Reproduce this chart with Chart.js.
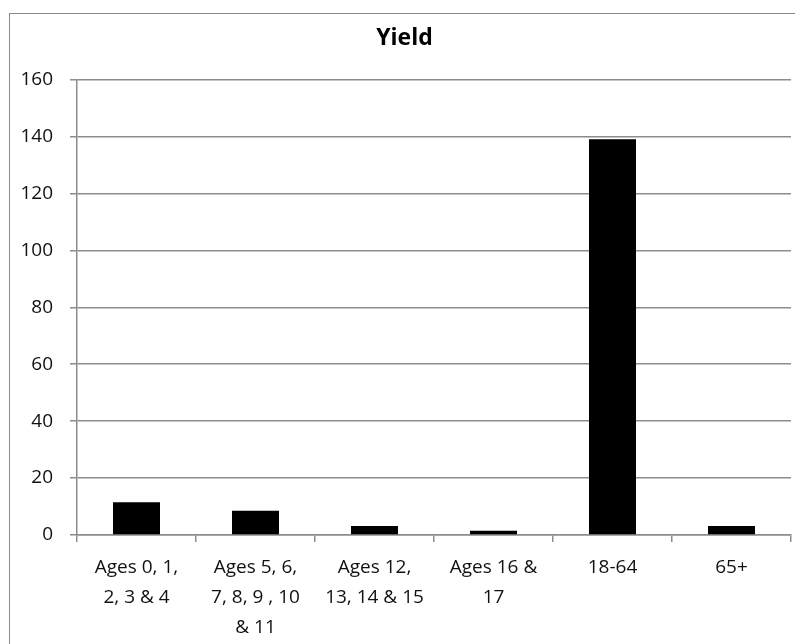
<!DOCTYPE html>
<html>
<head>
<meta charset="utf-8">
<script src="https://cdn.jsdelivr.net/npm/chart.js@4"></script>
<style>
  html, body { margin: 0; padding: 0; background: #fff; overflow: hidden; }
  #frame { position: absolute; left: 9px; top: 13px; width: 820px; height: 700px; border: 1.5px solid #8a8a8a; }
  #wrap { position: absolute; left: 0; top: 0; width: 795px; height: 644px; }
</style>
</head>
<body>
<div id="frame"></div>
<div id="wrap"><canvas id="bar-chart" width="795" height="644"></canvas></div>
<script>
const categories = [
  ["Ages 0, 1,", "2, 3 & 4"],
  ["Ages 5, 6,", "7, 8, 9 , 10", "& 11"],
  ["Ages 12,", "13, 14 & 15"],
  ["Ages 16 &", "17"],
  "18-64",
  "65+",
];
const yieldValues = [11.5, 8.5, 3.2, 1.5, 139, 3.2];
const yTicks = [0, 20, 40, 60, 80, 100, 120, 140, 160];

const gridColor = "#8c8c8c";
const font = "'Open Sans', 'Liberation Sans', sans-serif";

const ctx = document.getElementById("bar-chart").getContext("2d");
new Chart(ctx, {
  type: "bar",
  data: {
    labels: categories,
    datasets: [
      {
        label: "Yield",
        data: yieldValues,
        backgroundColor: "#000",
        borderWidth: 0,
        barPercentage: 0.395,
        categoryPercentage: 1,
      },
    ],
  },
  options: {
    responsive: false,
    animation: false,
    layout: { padding: { left: 18, right: 4, top: 0, bottom: 0 } },
    plugins: {
      legend: { display: false },
      tooltip: { enabled: false },
      title: {
        display: true,
        text: "Yield",
        color: "#000",
        font: { family: font, size: 23, weight: "bold", lineHeight: 1.2 },
        padding: { top: 25, bottom: 27 },
      },
    },
    scales: {
      x: {
        grid: {
          display: true,
          drawOnChartArea: false,
          drawTicks: true,
          tickLength: 7,
          color: gridColor,
          lineWidth: 1.5,
        },
        border: { color: gridColor, width: 1.5 },
        ticks: {
          color: "#111",
          padding: 11,
          maxRotation: 0,
          autoSkip: false,
          font: { family: font, size: 19, lineHeight: 1.58 },
        },
        afterFit: (axis) => { axis.height = 109; },
      },
      y: {
        min: 0,
        max: 160,
        afterBuildTicks: (axis) => { axis.ticks = yTicks.map((v) => ({ value: v })); },
        grid: { color: gridColor, lineWidth: 1.5, tickLength: 7 },
        border: { color: gridColor, width: 1.5 },
        ticks: {
          color: "#111",
          padding: 17,
          font: { family: font, size: 19 },
        },
        afterFit: (axis) => { axis.width = 59; },
      },
    },
  },
});
</script>
</body>
</html>
